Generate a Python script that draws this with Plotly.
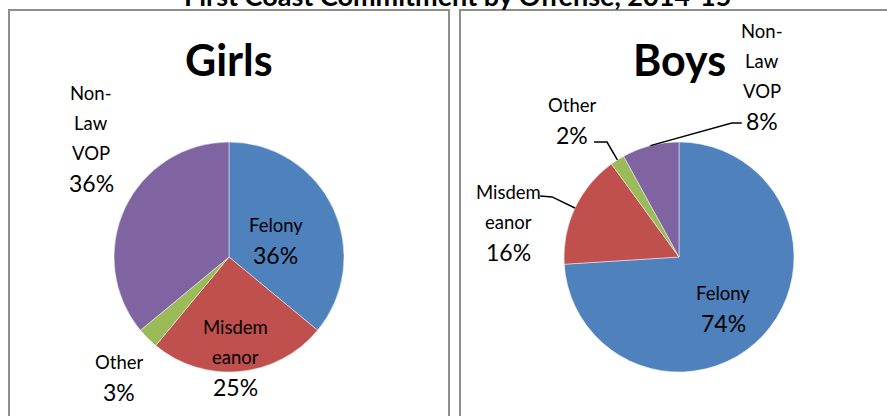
import math
import plotly.graph_objects as go

# ---------------- data ----------------
categories = ["Felony", "Misdemeanor", "Other", "Non-Law VOP"]
girls_pct = [36, 25, 3, 36]
boys_pct = [74, 16, 2, 8]
panel_titles = ["Girls", "Boys"]
main_title = "First Coast Commitment by Offense, 2014-15"
# how Excel wrapped each category label
label_lines = [["Felony"], ["Misdem", "eanor"], ["Other"], ["Non-", "Law", "VOP"]]

# ---------------- style ----------------
W, H = 887, 416
colors = ["#4F81BD", "#C0504D", "#9BBB59", "#8064A2"]
FONT = "Lato"
R = 115
panels = [
    dict(values=girls_pct, cx=229, cy=257, box=(9, 10, 449, 430),
         # (radial factor, angle offset deg) of each label block
         place=[(0.436, 4.8), (0.871, 1.4), (1.416, -2.5), (1.584, 15.6)],
         leaders={}),
    dict(values=boys_pct, cx=679, cy=257, box=(460, 10, 900, 430),
         place=[(0.583, 5.7), (1.517, -13.6), (1.511, -5.6), (1.73, 39.0)],
         # label-relative start and elbow of leader lines (px)
         leaders={1: ((32, -26), (44, -25)), 2: ((22, 22), (35, 22)), 3: ((-20, 47), (-30, 47))}),
]
LINE_GAP = 30
NAME_SIZE = 18.5
PCT_SIZE = 23


def px(x):
    return x / W


def py(y):
    return 1 - y / H


fig = go.Figure()
annotations = []
shapes = []

for p_i, p in enumerate(panels):
    vals = p["values"]
    cx, cy = p["cx"], p["cy"]
    x0, y0, x1, y1 = p["box"]
    shapes.append(dict(type="rect", xref="paper", yref="paper",
                       x0=px(x0), x1=px(x1), y0=py(y1), y1=py(y0),
                       line=dict(color="#8e8e8e", width=2), fillcolor="rgba(0,0,0,0)"))
    fig.add_trace(go.Pie(
        labels=categories, values=vals, sort=False, direction="clockwise", rotation=0,
        marker=dict(colors=colors, line=dict(color="rgba(255,255,255,0.6)", width=0.8)),
        textinfo="none", hoverinfo="label+percent", showlegend=False,
        domain=dict(x=[px(cx - R), px(cx + R)], y=[py(cy + R), py(cy - R)]),
    ))
    annotations.append(dict(text="<b>%s</b>" % panel_titles[p_i], x=px(cx), y=py(60),
                            xref="paper", yref="paper", showarrow=False,
                            xanchor="center", yanchor="middle",
                            font=dict(family=FONT, size=43, color="black")))
    total = float(sum(vals))
    cum = 0.0
    for i, v in enumerate(vals):
        mid = (cum + v / 2.0) / total * 360.0
        cum += v
        k, dth = p["place"][i]
        a = math.radians(mid + dth)
        lx = cx + R * k * math.sin(a)
        ly = cy - R * k * math.cos(a)
        lines = label_lines[i] + ["%d%%" % v]
        n = len(lines)
        for j, t in enumerate(lines):
            yy = ly + (j - (n - 1) / 2.0) * LINE_GAP
            size = PCT_SIZE if j == n - 1 else NAME_SIZE
            annotations.append(dict(text=t, x=px(lx), y=py(yy), xref="paper", yref="paper",
                                    showarrow=False, xanchor="center", yanchor="middle",
                                    font=dict(family=FONT, size=size, color="black")))
        if i in p["leaders"]:
            (sx, sy), (ex, ey) = p["leaders"][i]
            am = math.radians(mid)
            edge = (cx + R * math.sin(am), cy - R * math.cos(am))
            pts = [(lx + sx, ly + sy), (lx + ex, ly + ey), edge]
            path = "M %f %f" % (px(pts[0][0]), py(pts[0][1]))
            for q in pts[1:]:
                path += " L %f %f" % (px(q[0]), py(q[1]))
            shapes.append(dict(type="path", xref="paper", yref="paper", path=path,
                               line=dict(color="black", width=1.5)))

annotations.append(dict(text="<b>%s</b>" % main_title, x=px(457), y=py(-4.5), xref="paper", yref="paper",
                        showarrow=False, xanchor="center", yanchor="middle",
                        font=dict(family=FONT, size=27, color="black")))

fig.update_layout(width=W, height=H, margin=dict(l=0, r=0, t=0, b=0),
                  paper_bgcolor="white", plot_bgcolor="white",
                  annotations=annotations, shapes=shapes)

fig.write_html("out.html", config={"displayModeBar": False},
               post_script="document.body.style.margin='0';document.body.style.padding='0';"
                           "document.body.style.overflow='hidden';")
